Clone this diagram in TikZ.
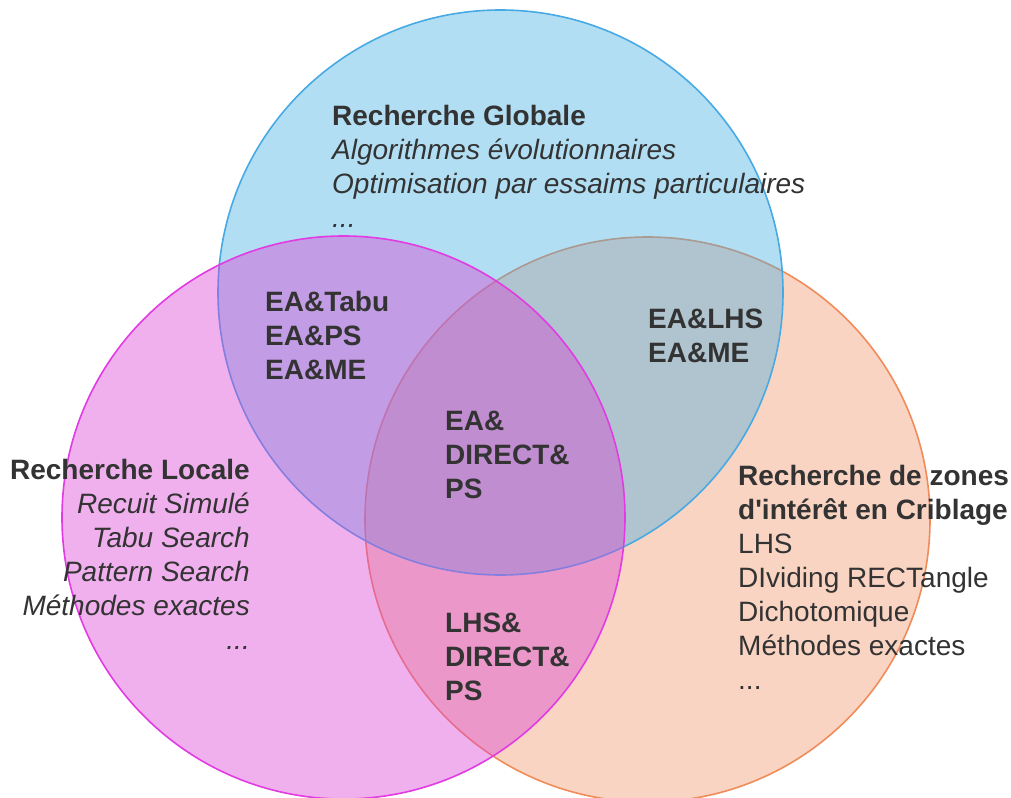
\documentclass[tikz,border=0pt]{standalone}
\usepackage{fontspec}
\setmainfont{Liberation Sans}

% Fill and outline colours of the three sets
\definecolor{globalfill}{RGB}{70,175,226}
\definecolor{globalline}{RGB}{72,170,228}
\definecolor{localfill}{RGB}{219,67,214}
\definecolor{localline}{RGB}{225,60,225}
\definecolor{criblefill}{RGB}{249,212,194}
\definecolor{cribleline}{RGB}{240,140,90}
\definecolor{textgray}{RGB}{51,51,51}

\begin{document}
\begin{tikzpicture}[x=1bp,y=-1bp,
  setcircle/.style={line width=1.6bp},
  label/.style={text=textgray, inner sep=0pt,
    font=\fontsize{28bp}{34bp}\selectfont},
  hybrid/.style={label, anchor=base west, align=left,
    font=\fontsize{28bp}{34bp}\selectfont\bfseries},
  ]
\useasboundingbox[fill=white] (0,0) rectangle (1011,798);

% Centres of the three sets
\coordinate (cglobal) at (500.5,292.5);
\coordinate (clocal)  at (343.5,517.5);
\coordinate (ccrible) at (647.5,519.5);

% Sets, from back to front
\path[setcircle, fill=criblefill, draw=cribleline]
  (ccrible) circle[radius=282.5bp];
\path[setcircle, fill=globalfill, fill opacity=0.41, draw=globalline]
  (cglobal) circle[radius=282.5bp];
\path[setcircle, fill=localfill, fill opacity=0.42, draw=localline]
  (clocal) circle[radius=281.5bp];

% Set titles and their methods (anchored at the last line's baseline)
\node[label, anchor=base west, align=left] (globale) at (332,227)
  {\textbf{Recherche Globale}\\
   \textit{Algorithmes évolutionnaires}\\
   \textit{Optimisation par essaims particulaires}\\
   \textit{...}};

\node[label, anchor=base east, align=right] (locale) at (250,649)
  {\textbf{Recherche Locale}\\
   \textit{Recuit Simulé}\\
   \textit{Tabu Search}\\
   \textit{Pattern Search}\\
   \textit{Méthodes exactes}\\
   \textit{...}};

\node[label, anchor=base west, align=left] (criblage) at (738,689)
  {\textbf{Recherche de zones}\\
   \textbf{d\textquotesingle intérêt en Criblage}\\
   LHS\\
   DIviding RECTangle\\
   Dichotomique\\
   Méthodes exactes\\
   ...};

% Hybrid methods in the intersections
\node[hybrid] (globloc)  at (265,379) {EA\&Tabu\\EA\&PS\\EA\&ME};
\node[hybrid] (globcrib) at (648,362) {EA\&LHS\\EA\&ME};
\node[hybrid] (centre)   at (445,498) {EA\&\\DIRECT\&\\PS};
\node[hybrid] (loccrib)  at (445,700) {LHS\&\\DIRECT\&\\PS};
\end{tikzpicture}
\end{document}
